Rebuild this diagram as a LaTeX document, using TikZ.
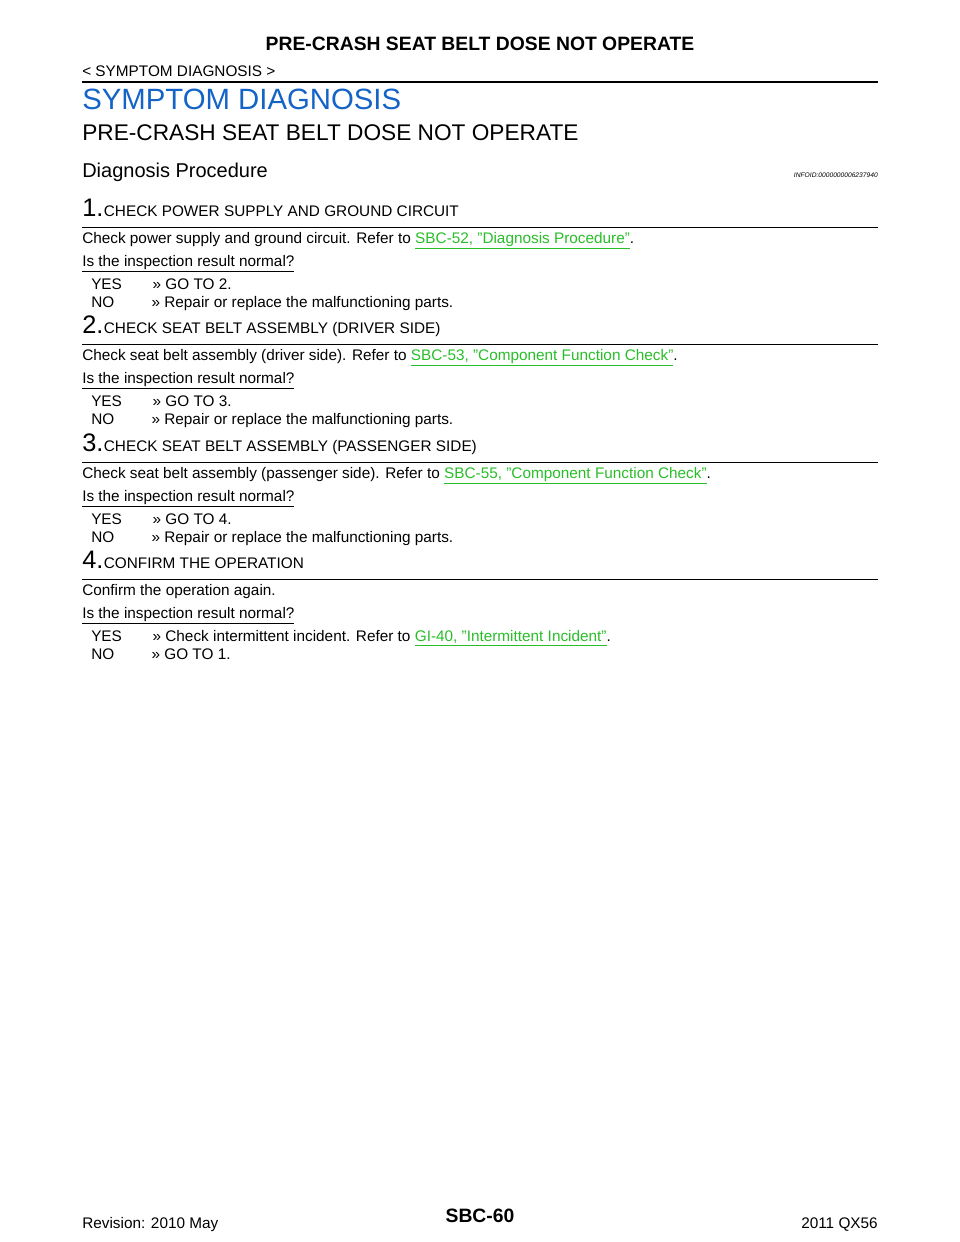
\documentclass[tikz,border=0pt]{standalone}
\usepackage{fontspec}
\setmainfont{Liberation Sans}
\usepackage{xcolor}
\usetikzlibrary{positioning}
\definecolor{headblue}{RGB}{20,100,200}
\definecolor{linkgreen}{RGB}{40,190,40}
\newcommand{\lnk}[1]{\textcolor{linkgreen}{\underline{#1}}}
\begin{document}
\begin{tikzpicture}[x=0.75pt,y=-0.75pt,
    txt/.style={anchor=base west, inner sep=0pt, font=\fontsize{11.5pt}{13pt}\selectfont},
    steptitle/.style={anchor=base west, inner sep=0pt, font=\fontsize{11.5pt}{13pt}\selectfont},
    stepnum/.style={anchor=base west, inner sep=0pt, font=\fontsize{19pt}{20pt}\selectfont},
    rule/.style={line width=0.6pt}
]
    \useasboundingbox (0,0) rectangle (960,1242);
    % page header
    \node[inner sep=0pt, font=\bfseries\fontsize{14.5pt}{16pt}\selectfont] (pagetitle) at (480,44) {PRE-CRASH SEAT BELT DOSE NOT OPERATE};
    \node[txt] (section) at (82,76) {< SYMPTOM DIAGNOSIS >};
    \draw[line width=1.5pt] (82,82) -- (878,82);
    \node[anchor=base west, inner sep=0pt, text=headblue, font=\fontsize{22pt}{24pt}\selectfont] (chapter) at (82,109) {SYMPTOM DIAGNOSIS};
    \node[anchor=base west, inner sep=0pt, font=\fontsize{17pt}{19pt}\selectfont] (symptom) at (82,140) {PRE-CRASH SEAT BELT DOSE NOT OPERATE};
    \node[anchor=base west, inner sep=0pt, font=\fontsize{15pt}{17pt}\selectfont] (proc) at (82,177) {Diagnosis Procedure};
    \node[anchor=base east, inner sep=0pt, font=\itshape\fontsize{5pt}{6pt}\selectfont] (infoid) at (878,177) {INFOID:0000000006237940};

    % step 1
    \node[stepnum] (n1) at (82,216) {1.};
    \node[steptitle] (t1) at (n1.base east) {CHECK POWER SUPPLY AND GROUND CIRCUIT};
    \draw[rule] (82,227) -- (878,227);
    \node[txt] (c1) at (82,243) {Check power supply and ground circuit. Refer to \lnk{SBC-52, "Diagnosis Procedure"}.};
    \node[txt] (q1) at (82,266) {\underline{Is the inspection result normal?}};
    \node[txt] (y1) at (91,289) {YES\hspace{23pt}>> GO TO 2.};
    \node[txt] (no1) at (91,307) {NO\hspace{28pt}>> Repair or replace the malfunctioning parts.};

    % step 2
    \node[stepnum] (n2) at (82,333) {2.};
    \node[steptitle] (t2) at (n2.base east) {CHECK SEAT BELT ASSEMBLY (DRIVER SIDE)};
    \draw[rule] (82,344) -- (878,344);
    \node[txt] (c2) at (82,360) {Check seat belt assembly (driver side). Refer to \lnk{SBC-53, "Component Function Check"}.};
    \node[txt] (q2) at (82,383) {\underline{Is the inspection result normal?}};
    \node[txt] (y2) at (91,406) {YES\hspace{23pt}>> GO TO 3.};
    \node[txt] (no2) at (91,424) {NO\hspace{28pt}>> Repair or replace the malfunctioning parts.};

    % step 3
    \node[stepnum] (n3) at (82,451) {3.};
    \node[steptitle] (t3) at (n3.base east) {CHECK SEAT BELT ASSEMBLY (PASSENGER SIDE)};
    \draw[rule] (82,462) -- (878,462);
    \node[txt] (c3) at (82,478) {Check seat belt assembly (passenger side). Refer to \lnk{SBC-55, "Component Function Check"}.};
    \node[txt] (q3) at (82,501) {\underline{Is the inspection result normal?}};
    \node[txt] (y3) at (91,524) {YES\hspace{23pt}>> GO TO 4.};
    \node[txt] (no3) at (91,542) {NO\hspace{28pt}>> Repair or replace the malfunctioning parts.};

    % step 4
    \node[stepnum] (n4) at (82,568) {4.};
    \node[steptitle] (t4) at (n4.base east) {CONFIRM THE OPERATION};
    \draw[rule] (82,579) -- (878,579);
    \node[txt] (c4) at (82,595) {Confirm the operation again.};
    \node[txt] (q4) at (82,618) {\underline{Is the inspection result normal?}};
    \node[txt] (y4) at (91,641) {YES\hspace{23pt}>> Check intermittent incident. Refer to \lnk{GI-40, "Intermittent Incident"}.};
    \node[txt] (no4) at (91,659) {NO\hspace{28pt}>> GO TO 1.};

    % footer
    \node[txt] (rev) at (82,1228) {Revision: 2010 May};
    \node[inner sep=0pt, font=\bfseries\fontsize{14.5pt}{16pt}\selectfont] (pagenum) at (480,1216) {SBC-60};
    \node[anchor=base east, inner sep=0pt, font=\fontsize{11.5pt}{13pt}\selectfont] (model) at (878,1228) {2011 QX56};
\end{tikzpicture}
\end{document}
